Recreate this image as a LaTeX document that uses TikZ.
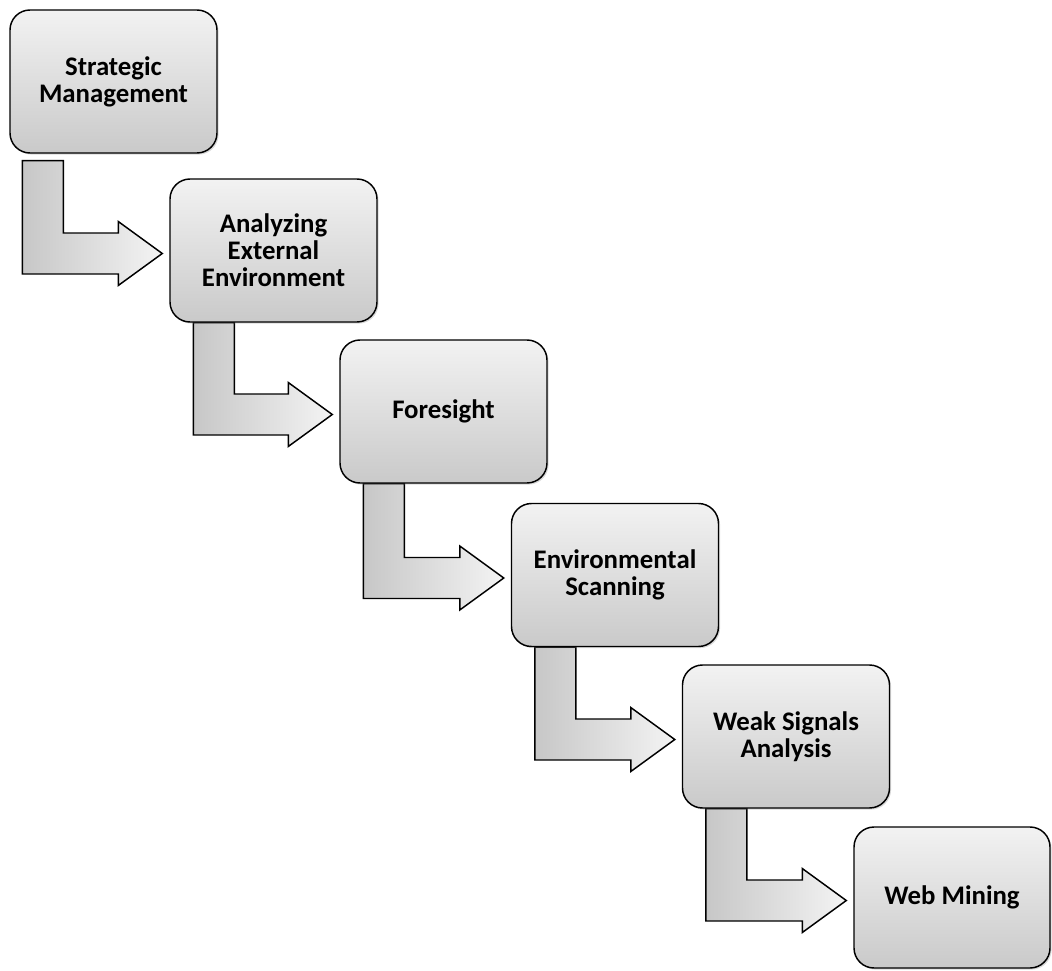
\documentclass[tikz,border=0pt]{standalone}
\usepackage{fontspec}
\setmainfont{Carlito}
\usetikzlibrary{calc,shadows,backgrounds}

% bent block arrow from the bottom of #1 into the left side of #2;
% #3 = offset of the shaft from the left edge of #1, #4 = gap below #1
\newcommand{\bentarrow}[4]{%
  \path[flowarrow]
    ($(#1.south west)+(#3,#4)$)
    -- ($(#1.south west)+(#3+41,#4)$)
    -- ($(#1.south west |- #2.west)+(#3+41,-17.5)$)
    -- ($(#2.west)+(-51,-17.5)$)
    -- ($(#2.west)+(-51,-29)$)
    -- ($(#2.west)+(-7,3)$)
    -- ($(#2.west)+(-51,35)$)
    -- ($(#2.west)+(-51,23.5)$)
    -- ($(#1.south west |- #2.west)+(#3,23.5)$)
    -- cycle;}

\begin{document}
\begin{tikzpicture}[x=0.75pt,y=-0.75pt,
  stepbox/.style={draw=black, line width=1.1pt, rounded corners=15pt,
    top color=gray!10, bottom color=gray!42,
    minimum width=155.25pt, minimum height=107.25pt,
    align=center, inner sep=2pt,
    font=\bfseries\fontsize{20.1}{20.25}\selectfont,
    drop shadow={shadow xshift=1.2pt, shadow yshift=-1.2pt, opacity=0.3}},
  flowarrow/.style={draw=black, line width=1.1pt, line join=miter,
    left color=gray!44, right color=gray!9}]

\useasboundingbox (0,0) rectangle (1052,970);

\node[stepbox] (b1) at (113.5,81.5) {Strategic\\Management};
\node[stepbox] (b2) at (273.5,250.5) {Analyzing\\External\\Environment};
\node[stepbox] (b3) at (443.5,411.5) {Foresight};
\node[stepbox] (b4) at (615,575) {Environmental\\Scanning};
\node[stepbox] (b5) at (786,736.5) {Weak Signals\\Analysis};
\node[stepbox, minimum width=147pt, minimum height=105.75pt] (b6) at (952,897.5) {Web Mining};

\begin{scope}[on background layer]
  \bentarrow{b1}{b2}{13}{7}
  \bentarrow{b2}{b3}{24}{0}
  \bentarrow{b3}{b4}{24}{0}
  \bentarrow{b4}{b5}{24}{0}
  \bentarrow{b5}{b6}{24}{0}
\end{scope}
\end{tikzpicture}
\end{document}
